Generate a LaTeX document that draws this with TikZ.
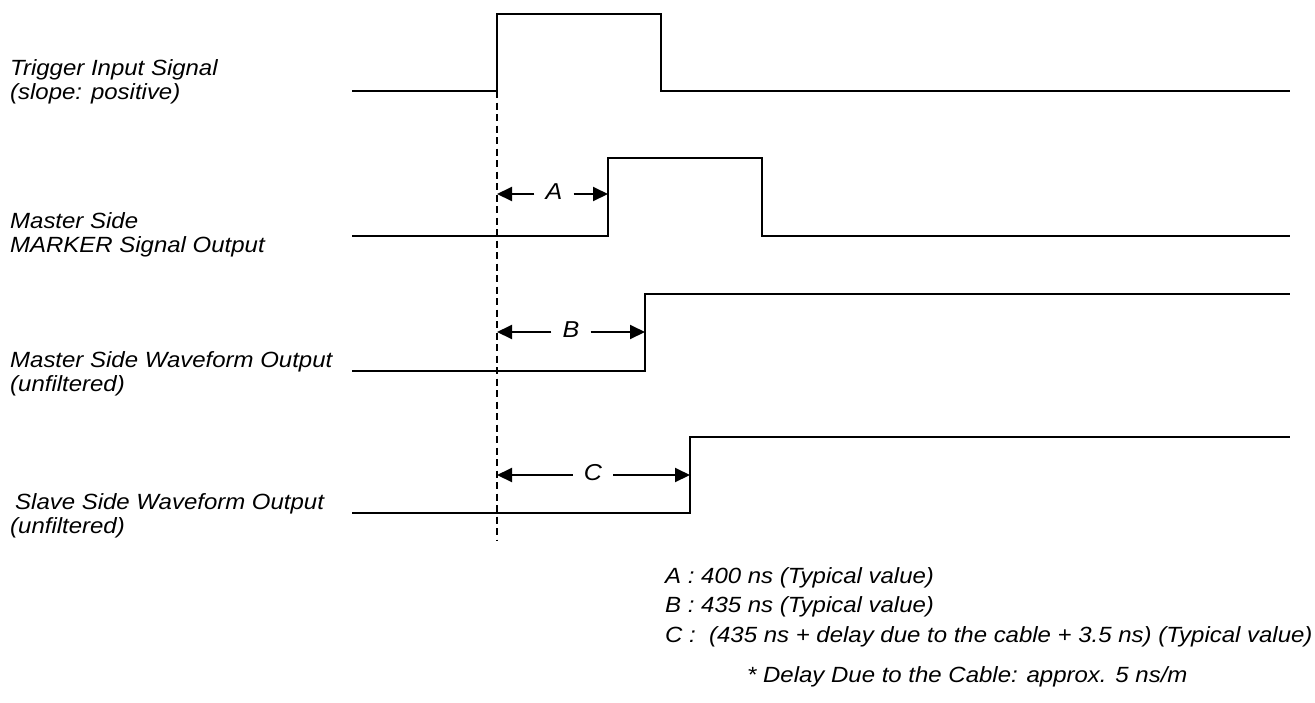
\documentclass[tikz,border=0pt]{standalone}
\usepackage{fontspec}
\setmainfont{Liberation Sans}[FakeStretch=1.09]
\usetikzlibrary{arrows.meta}
\begin{document}
\begin{tikzpicture}[x=1pt,y=-1pt,
  wave/.style={line width=2.6pt,line join=miter},
  lbl/.style={anchor=north west,align=left,inner sep=0pt,font=\fontsize{22}{24.5}\selectfont\itshape},
  note/.style={anchor=west,inner sep=0pt,font=\fontsize{22}{24}\selectfont\itshape},
  dim/.style={line width=2pt,-{Triangle[length=15pt,width=14pt]}},
  dimlbl/.style={inner xsep=11pt,inner ysep=2pt,font=\fontsize{23}{26}\selectfont\itshape}]
\useasboundingbox (0,0) rectangle (1315,702);
% waveforms
\draw[wave] (352,91) -- (497,91) -- (497,14) -- (661,14) -- (661,91) -- (1290,91);
\draw[wave] (352,236) -- (608,236) -- (608,158) -- (762,158) -- (762,236) -- (1290,236);
\draw[wave] (352,371) -- (645,371) -- (645,294) -- (1290,294);
\draw[wave] (352,513) -- (690,513) -- (690,437) -- (1290,437);
% dashed reference
\coordinate (dtop) at (497,91);
\coordinate (dbot) at (497,541);
\draw[line width=1.9pt,dash pattern=on 7pt off 4.5pt] (dtop) -- (dbot);
% dimension coordinates
\coordinate (a0) at (497,194); \coordinate (a1) at (608,194);
\coordinate (b0) at (497,332); \coordinate (b1) at (645,332);
\coordinate (c0) at (497,475); \coordinate (c1) at (690,475);
\node[dimlbl] (la) at (554,192) {A};
\node[dimlbl] (lb) at (571,330) {B};
\node[dimlbl] (lc) at (593,473) {C};
\draw[dim] (la.west |- a0) -- (a0);
\draw[dim] (la.east |- a1) -- (a1);
\draw[dim] (lb.west |- b0) -- (b0);
\draw[dim] (lb.east |- b1) -- (b1);
\draw[dim] (lc.west |- c0) -- (c0);
\draw[dim] (lc.east |- c1) -- (c1);
% left labels
\node[lbl] (t1) at (10,59) {Trigger Input Signal\\(slope: positive)};
\node[lbl] (t2) at (10,212) {Master Side\\MARKER Signal Output};
\node[lbl] (t3) at (10,351) {Master Side Waveform Output\\(unfiltered)};
\node[lbl] (t4) at (10,493) {\hspace*{5pt}Slave Side Waveform Output\\(unfiltered)};
% notes
\node[note] (n1) at (665,578) {A : 400 ns (Typical value)};
\node[note] (n2) at (665,607) {B : 435 ns (Typical value)};
\node[note] (n3) at (665,637) {C :\ \ (435 ns + delay due to the cable + 3.5 ns) (Typical value)};
\node[note] (n4) at (747,677) {* Delay Due to the Cable: approx. 5 ns/m};
\end{tikzpicture}
\end{document}
